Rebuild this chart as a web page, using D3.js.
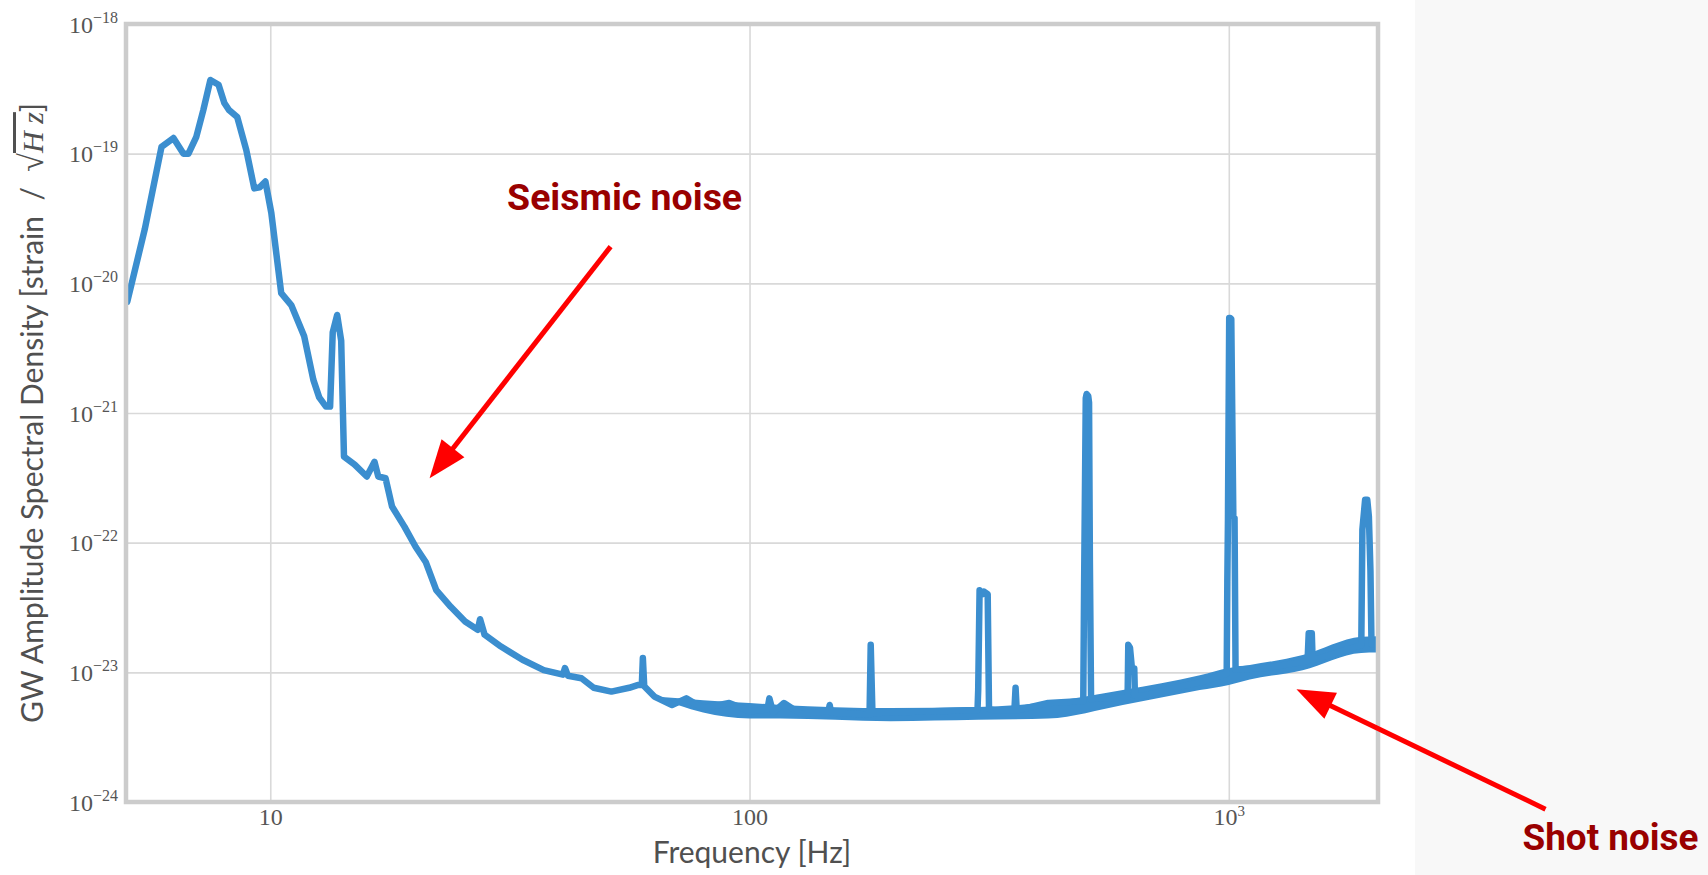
<!DOCTYPE html>
<html>
<head>
<meta charset="utf-8">
<script src="https://cdn.jsdelivr.net/npm/d3@7"></script>
<style>
  body { margin: 0; background: #fff; }
  svg { display: block; }
</style>
</head>
<body>
<script>
// Frequency of each sample [Hz]
var freqHz = [
  5.03, 5.47, 5.93, 6.28, 6.59, 6.75, 7.01, 7.25, 7.5, 7.8, 8.02, 8.2, 8.53, 8.91, 9.26, 9.5, 9.77,
  10.05, 10.54, 11.06, 11.77, 12.3, 12.65, 13.07, 13.33, 13.5, 13.79, 14.06, 14.25, 15.0, 15.9, 16.5,
  16.8, 17.4, 17.95, 19.05, 20.1, 21.1, 22.2, 23.8, 25.5, 27.1, 27.4, 28.0, 30.3, 33.6, 37.2, 40.8,
  41.2, 41.8, 44.6, 47.3, 51.5, 56.1, 58.6, 59.6, 59.9, 60.3, 63.3, 68.9, 73.8, 79.8, 90.7, 100.4,
  109, 110, 112, 118, 127.7, 146, 147, 148, 178, 179, 180.5, 190, 241, 285, 299, 300, 302, 306, 308,
  314, 316, 324, 357, 359, 361, 420, 497, 499, 503, 505, 509, 511, 513, 516, 525, 615, 617, 622, 628,
  635, 637, 664, 728, 797, 874, 977, 990, 993, 996, 1002, 1007, 1012, 1022, 1028, 1033, 1197, 1460, 1468,
  1490, 1496, 1510, 1890, 1900, 1925, 1945, 1960, 1975, 1985, 2040
];
// GW amplitude spectral density [strain / sqrt(Hz)]
var asd = [
  7.2e-21, 2.6e-20, 1.13e-19, 1.32e-19, 1.0e-19, 1.0e-19, 1.35e-19, 2.17e-19, 3.7e-19, 3.4e-19, 2.46e-19, 2.17e-19, 1.92e-19, 1.07e-19, 5.4e-20, 5.5e-20, 6.1e-20,
  3.5e-20, 8.4e-21, 6.8e-21, 3.9e-21, 1.8e-21, 1.32e-21, 1.12e-21, 1.12e-21, 4.2e-21, 5.7e-21, 3.6e-21, 4.6e-22, 4.0e-22, 3.24e-22, 4.2e-22,
  3.24e-22, 3.14e-22, 1.9e-22, 1.33e-22, 9.3e-23, 7.1e-23, 4.3e-23, 3.2e-23, 2.47e-23, 2.13e-23, 2.57e-23, 1.95e-23, 1.58e-23, 1.25e-23, 1.04e-23, 9.6e-24,
  1.08e-23, 9.4e-24, 9.0e-24, 7.6e-24, 7.1e-24, 7.6e-24, 8.0e-24, 8.0e-24, 1.29e-23, 7.8e-24, 6.5e-24, 5.6e-24, 6.3e-24, 5.3e-24, 5.8e-24, 5.0e-24,
  5.2e-24, 6.3e-24, 4.9e-24, 5.8e-24, 4.8e-24, 5.0e-24, 5.6e-24, 4.9e-24, 4.7e-24, 1.63e-23, 4.8e-24, 4.9e-24, 5.0e-24, 5.1e-24, 5.1e-24, 7.3e-24, 4.3e-23, 4.0e-23, 4.2e-23,
  4.0e-23, 5.2e-24, 5.1e-24, 5.1e-24, 7.6e-24, 5.1e-24, 5.8e-24, 6.0e-24, 4.6e-23, 1.3e-21, 1.4e-21, 1.35e-21, 1.2e-21, 7.4e-23, 6.2e-24, 6.3e-24, 6.4e-24, 1.63e-23, 1.55e-23, 1.07e-23,
  1.07e-23, 6.6e-24, 6.6e-24, 7.2e-24, 7.8e-24, 8.4e-24, 9.6e-24, 9.8e-24, 5e-23, 1.5e-22, 5.4e-21, 5.4e-21, 5.3e-21, 1.6e-22, 1.55e-22, 1.05e-23, 1.08e-23, 1.22e-23, 2.0e-23,
  2.0e-23, 1.25e-23, 1.25e-23, 1.62e-23, 1.26e-22, 2.14e-22, 2.14e-22, 1.6e-22, 6.1e-23, 1.65e-23, 1.65e-23
];

// Spread of the dense noise floor above 60 Hz (upper and lower edge)
var bandFreq = [63.3, 80, 100, 116, 197, 300, 420, 601, 870, 1000, 1106, 1426, 1890, 2040];
var bandHigh = [6.5e-24, 6.1e-24, 5.8e-24, 5.6e-24, 5.3e-24, 5.4e-24, 5.9e-24, 7.3e-24, 9.5e-24, 1.08e-23, 1.14e-23, 1.36e-23, 1.88e-23, 1.9e-23];
var bandLow = [6.5e-24, 4.9e-24, 4.4e-24, 4.4e-24, 4.2e-24, 4.3e-24, 4.4e-24, 5.6e-24, 7.3e-24, 8.0e-24, 8.8e-24, 1.04e-23, 1.41e-23, 1.42e-23];

// Axis ticks
var xTicks = [10, 100, 1000];
var xTickBase = ['10', '100', '10'];
var xTickExp = ['', '', '3'];
var yTickExp = [-18, -19, -20, -21, -22, -23, -24];

// Annotations, placed in data coordinates [Hz, ASD]
var noteText = ['Seismic noise', 'Shot noise'];
var noteAt = [[31.2, 3.7e-20], [4100, 4.3e-25]];
var noteWidth = [235, 176];
var arrowFrom = [[51.3, 1.92e-20], [4580, 8.8e-25]];
var arrowTo = [[21.5, 3.14e-22], [1384, 7.4e-24]];

var width = 1708, height = 875;
var plot = {left: 126, top: 24, right: 1378, bottom: 802};
var blue = '#3b8ecf';

var svg = d3.select('body').append('svg')
  .attr('width', width)
  .attr('height', height);

// Grey side panel on the right
svg.append('rect')
  .attr('x', 1415).attr('y', 0)
  .attr('width', width - 1415).attr('height', height)
  .attr('fill', '#f8f8f8');

var x = d3.scaleLog().domain([5, 2048]).range([plot.left, plot.right]);
var y = d3.scaleLog().domain([1e-24, 1e-18]).range([plot.bottom, plot.top]);

// Grid
var grid = svg.append('g').attr('class', 'grid');
grid.append('g')
  .attr('transform', 'translate(0,' + plot.bottom + ')')
  .call(d3.axisBottom(x).tickValues(xTicks).tickSize(-(plot.bottom - plot.top)).tickFormat(''));
grid.append('g')
  .attr('transform', 'translate(' + plot.left + ',0)')
  .call(d3.axisLeft(y).tickValues(yTickExp.map(function(e) { return Math.pow(10, e); }))
    .tickSize(-(plot.right - plot.left)).tickFormat(''));
grid.selectAll('.domain').remove();
grid.selectAll('line').attr('stroke', '#d9d9d9').attr('stroke-width', 1.6);

// The spectrum
svg.append('clipPath').attr('id', 'clip')
  .append('rect')
  .attr('x', plot.left).attr('y', plot.top)
  .attr('width', plot.right - plot.left).attr('height', plot.bottom - plot.top);

var spectrum = svg.append('g').attr('clip-path', 'url(#clip)');

var band = d3.area()
  .x(function(d, i) { return x(bandFreq[i]); })
  .y0(function(d, i) { return y(bandLow[i]); })
  .y1(function(d, i) { return y(bandHigh[i]); })
  .curve(d3.curveMonotoneX);

spectrum.append('path')
  .datum(bandFreq)
  .attr('d', band)
  .attr('fill', blue);

var line = d3.line()
  .x(function(d, i) { return x(freqHz[i]); })
  .y(function(d, i) { return y(asd[i]); });

spectrum.append('path')
  .datum(freqHz)
  .attr('d', line)
  .attr('fill', 'none')
  .attr('stroke', blue)
  .attr('stroke-width', 6.5)
  .attr('stroke-linejoin', 'round')
  .attr('stroke-linecap', 'round');

// Frame
svg.append('rect')
  .attr('x', plot.left).attr('y', plot.top)
  .attr('width', plot.right - plot.left).attr('height', plot.bottom - plot.top)
  .attr('fill', 'none')
  .attr('stroke', '#cccccc')
  .attr('stroke-width', 4.5);

var tickFont = '"Liberation Serif", "DejaVu Serif", serif';

// X tick labels
var xAxis = svg.append('g')
  .attr('transform', 'translate(0,' + plot.bottom + ')')
  .call(d3.axisBottom(x).tickValues(xTicks).tickSize(0).tickPadding(0).tickFormat(''));
xAxis.select('.domain').remove();
xAxis.selectAll('.tick text')
  .attr('y', 23).attr('dy', null)
  .attr('font-family', tickFont).attr('font-size', 24).attr('fill', '#555')
  .each(function(d, i) {
    var t = d3.select(this);
    t.append('tspan').text(xTickBase[i]);
    if (xTickExp[i]) t.append('tspan').attr('font-size', 15).attr('dy', -9).text(xTickExp[i]);
  });

// Y tick labels
var yAxis = svg.append('g')
  .attr('transform', 'translate(' + plot.left + ',0)')
  .call(d3.axisLeft(y).tickValues(yTickExp.map(function(e) { return Math.pow(10, e); }))
    .tickSize(0).tickPadding(8).tickFormat(''));
yAxis.select('.domain').remove();
yAxis.selectAll('.tick text')
  .attr('dy', null)
  .attr('font-family', tickFont).attr('font-size', 24).attr('fill', '#555')
  .each(function(d, i) {
    var t = d3.select(this);
    t.append('tspan').attr('dy', 8).text('10');
    t.append('tspan').attr('font-size', 16).attr('dy', -10).text('\u2212' + Math.abs(yTickExp[i]));
  });

// Axis titles
svg.append('text')
  .attr('x', (plot.left + plot.right) / 2)
  .attr('y', 863)
  .attr('text-anchor', 'middle')
  .attr('font-family', 'Lato, "Open Sans", sans-serif')
  .attr('font-size', 30)
  .attr('fill', '#505050')
  .text('Frequency [Hz]');

var yTitle = svg.append('text')
  .attr('transform', 'translate(43,' + ((plot.top + plot.bottom) / 2) + ') rotate(-90)')
  .attr('text-anchor', 'middle')
  .attr('font-family', 'Lato, "Open Sans", sans-serif')
  .attr('font-size', 30)
  .attr('fill', '#505050')
  .style('white-space', 'pre');
yTitle.append('tspan').text('GW Amplitude Spectral Density [strain  /  ');
yTitle.append('tspan').attr('font-family', tickFont).attr('font-size', 34).text('\u221A');
yTitle.append('tspan')
  .attr('font-family', tickFont)
  .attr('font-style', 'italic')
  .style('text-decoration', 'overline')
  .text('H z');
yTitle.append('tspan').text(']');

// Annotations
var notes = svg.append('g').attr('class', 'notes');

noteText.forEach(function(label, i) {
  notes.append('text')
    .attr('x', x(noteAt[i][0]))
    .attr('y', y(noteAt[i][1]))
    .attr('font-family', 'Roboto, sans-serif')
    .attr('font-weight', 700)
    .attr('font-size', 36)
    .attr('fill', '#990000')
    .attr('textLength', noteWidth[i])
    .attr('lengthAdjust', 'spacingAndGlyphs')
    .text(label);

  // Arrow from the label to the curve
  var x0 = x(arrowFrom[i][0]), y0 = y(arrowFrom[i][1]);
  var x1 = x(arrowTo[i][0]), y1 = y(arrowTo[i][1]);
  var len = Math.hypot(x1 - x0, y1 - y0);
  var ux = (x1 - x0) / len, uy = (y1 - y0) / len;
  var headLen = 38, headHalf = 14.5;
  var bx = x1 - ux * headLen, by = y1 - uy * headLen;

  notes.append('line')
    .attr('x1', x0).attr('y1', y0)
    .attr('x2', bx + ux * 4).attr('y2', by + uy * 4)
    .attr('stroke', '#ff0000')
    .attr('stroke-width', 5);

  notes.append('path')
    .attr('d', 'M' + x1 + ',' + y1 +
      'L' + (bx - uy * headHalf) + ',' + (by + ux * headHalf) +
      'L' + (bx + uy * headHalf) + ',' + (by - ux * headHalf) + 'Z')
    .attr('fill', '#ff0000');
});
</script>
</body>
</html>
